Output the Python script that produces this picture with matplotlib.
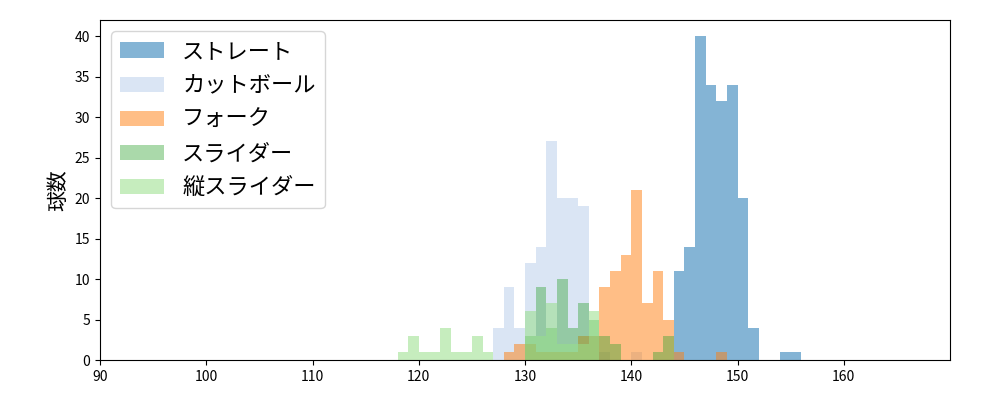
import numpy as np
import matplotlib.pyplot as plt

plt.rcParams['font.family'] = ['Noto Sans CJK JP', 'DejaVu Sans']

labels = ['ストレート', 'カットボール', 'フォーク', 'スライダー', '縦スライダー']
# bin start (km/h) -> count
straight = {144: 11, 145: 14, 146: 40, 147: 34, 148: 32, 149: 34, 150: 20, 151: 4, 154: 1, 155: 1}
cutball = {127: 4, 128: 9, 129: 4, 130: 12, 131: 14, 132: 27, 133: 20, 134: 20, 135: 19,
           136: 3, 137: 1, 140: 1}
fork = {128: 1, 129: 2, 130: 2, 131: 1, 132: 1, 133: 1, 134: 1, 135: 3, 136: 3, 137: 9,
        138: 11, 139: 13, 140: 21, 141: 7, 142: 11, 143: 5, 144: 1, 148: 1}
slider = {130: 3, 131: 9, 132: 4, 133: 10, 134: 4, 135: 7, 136: 5, 137: 3, 138: 2,
          142: 1, 143: 3}
vslider = {118: 1, 119: 3, 120: 1, 121: 1, 122: 4, 123: 1, 124: 1, 125: 3, 126: 1,
           130: 6, 131: 3, 132: 7, 133: 2, 134: 2, 135: 2, 136: 6}

series = [straight, cutball, fork, slider, vslider]
colors = ['#1f77b4', '#aec7e8', '#ff7f0e', '#2ca02c', '#98df8a']
alphas = [0.55, 0.45, 0.5, 0.4, 0.55]
bins = np.arange(117, 158)

fig, ax = plt.subplots(figsize=(10, 4), dpi=100)
for d, c, a, lab in zip(series, colors, alphas, labels):
    x = np.array(list(d.keys())) + 0.5
    w = np.array(list(d.values()))
    ax.hist(x, bins=bins, weights=w, color=c, alpha=a, label=lab)

ax.set_xlim(90, 170)
ax.set_ylim(0, 42)
ax.set_xticks(range(90, 170, 10))
ax.set_ylabel('球数', fontsize=15)
ax.legend(loc='upper left', fontsize=16)
plt.subplots_adjust(left=0.1, right=0.95, top=0.95, bottom=0.1)
plt.savefig('out.png')
